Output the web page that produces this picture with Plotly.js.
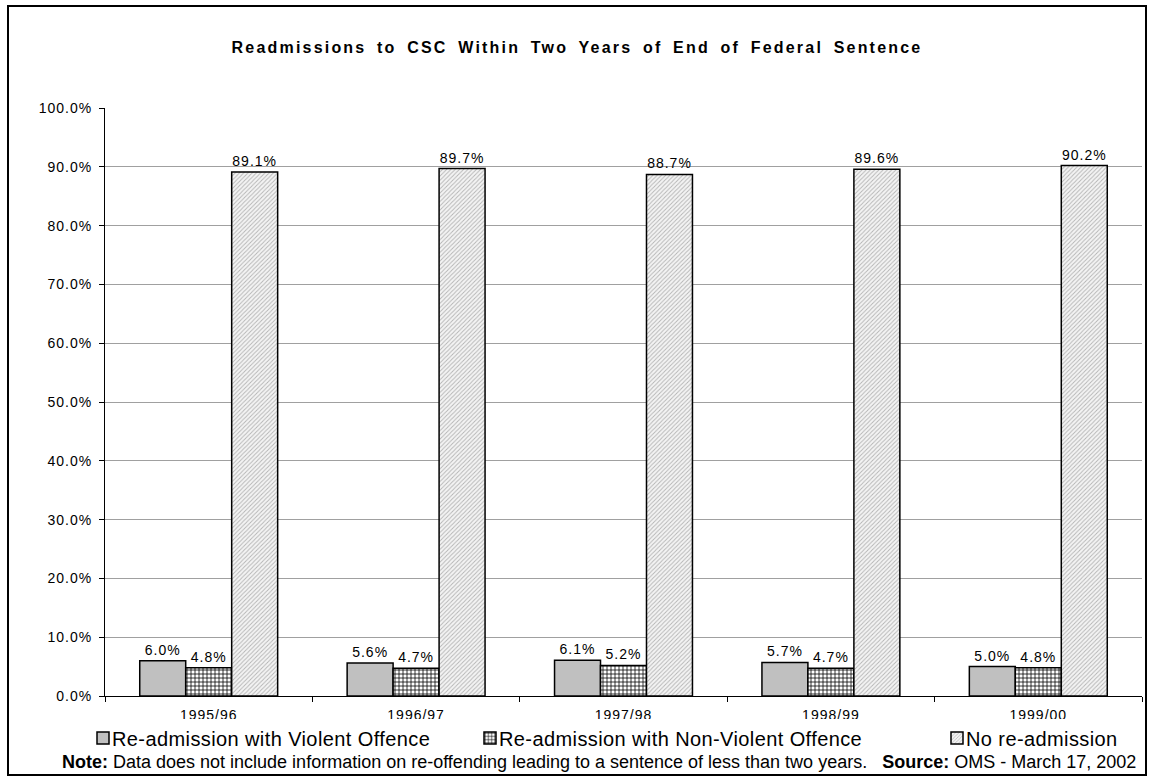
<!DOCTYPE html>
<html>
<head>
<meta charset="utf-8">
<script src="https://cdn.plot.ly/plotly-3.0.1.min.js"></script>
<style>
html,body{margin:0;padding:0;background:#fff;}
#chart{width:1154px;height:782px;}
.gtitle{letter-spacing:2.2px;word-spacing:4px;}
.ytick text,.xtick text,.bartext{letter-spacing:1px;}
.bartext{translate:0 -5px;}
.infolayer g.legend text,.infolayer g.legend2 text,.infolayer g.legend3 text{letter-spacing:0.4px;}
</style>
</head>
<body>
<div id="chart"></div>
<script>
const categories = ["1995/96","1996/97","1997/98","1998/99","1999/00"];
const violent = [6.0, 5.6, 6.1, 5.7, 5.0];
const nonViolent = [4.8, 4.7, 5.2, 4.7, 4.8];
const noReadmission = [89.1, 89.7, 88.7, 89.6, 90.2];
const seriesNames = ["Re-admission with Violent Offence","Re-admission with Non-Violent Offence","No re-admission"];
const titleText = "Readmissions to CSC Within Two Years of End of Federal Sentence";
const noteText = "<b>Note:</b> Data does not include information on re-offending leading to a sentence of less than two years.   <b>Source:</b> OMS - March 17, 2002";

const W = 1154, H = 782;
const L = 105, R = 12, T = 108, B = 86;
const pw = W - L - R, ph = H - T - B;
const px = x => (x - L) / pw;
const py = y => (H - B - y) / ph;

const font = "Liberation Sans, Arial, sans-serif";
const lineStyle = {color: "#000", width: 1.5};
const textFont = {family: font, size: 14, color: "#000"};

const traces = [
  {type: "bar", name: seriesNames[0], x: categories, y: violent,
   marker: {color: "#c0c0c0", line: lineStyle},
   texttemplate: "%{y:.1f}%", textposition: "outside", textfont: textFont,
   cliponaxis: false, hoverinfo: "none", legend: "legend"},
  {type: "bar", name: seriesNames[1], x: categories, y: nonViolent,
   marker: {color: "#fff", line: lineStyle,
     pattern: {shape: "+", fgcolor: "#000", bgcolor: "#fff", size: 4, solidity: 0.35}},
   texttemplate: "%{y:.1f}%", textposition: "outside", textfont: textFont,
   cliponaxis: false, hoverinfo: "none", legend: "legend2"},
  {type: "bar", name: seriesNames[2], x: categories, y: noReadmission,
   marker: {color: "#fff", line: lineStyle,
     pattern: {shape: "/", fgcolor: "#b4b4b4", bgcolor: "#f4f4f4", size: 3, solidity: 0.3}},
   texttemplate: "%{y:.1f}%", textposition: "outside", textfont: textFont,
   cliponaxis: false, hoverinfo: "none", legend: "legend3"}
];

const legendBase = {orientation: "h", yanchor: "middle", xanchor: "left",
  y: py(738), bgcolor: "rgba(0,0,0,0)", borderwidth: 0,
  font: {family: font, size: 20, color: "#000"}, itemwidth: 30};

const layout = {
  width: W, height: H,
  margin: {l: L, r: R, t: T, b: B},
  paper_bgcolor: "#fff", plot_bgcolor: "#fff",
  title: {text: "<b>" + titleText + "</b>", font: {family: font, size: 16, color: "#000"},
    x: 0.5, xref: "container", y: 1 - 47 / H, yref: "container", yanchor: "middle"},
  barmode: "group", bargap: 0.335, bargroupgap: 0,
  showlegend: true,
  legend: Object.assign({}, legendBase, {x: px(83)}),
  legend2: Object.assign({}, legendBase, {x: px(470)}),
  legend3: Object.assign({}, legendBase, {x: px(937)}),
  xaxis: {type: "category", showline: true, linecolor: "#000", linewidth: 1,
    ticks: "outside", tickson: "boundaries", ticklen: 5, tickcolor: "#000",
    ticklabelstandoff: 6,
    tickfont: {family: font, size: 14, color: "#000"}, showgrid: false, zeroline: false,
    fixedrange: true},
  yaxis: {range: [0, 100], dtick: 10, tickformat: ".1f", ticksuffix: "%",
    showline: true, linecolor: "#000", linewidth: 1, ticks: "outside", ticklen: 5,
    tickcolor: "#000", showgrid: true, gridcolor: "#a0a0a0", gridwidth: 1, zeroline: false,
    ticklabelstandoff: 4,
    tickfont: {family: font, size: 14, color: "#000"}, fixedrange: true},
  shapes: [
    {type: "line", xref: "paper", yref: "y", x0: 0.002, x1: 1, y0: 100, y1: 100,
     line: {color: "#fff", width: 2}, layer: "above"},
    {type: "rect", xref: "paper", yref: "paper", x0: px(40), x1: px(1140), y0: py(752), y1: py(719),
     line: {width: 0}, fillcolor: "#fff", layer: "above"},
    {type: "rect", xref: "paper", yref: "paper", x0: px(8), x1: px(1146), y0: py(775), y1: py(6),
     line: {color: "#000", width: 2}, fillcolor: "rgba(0,0,0,0)", layer: "above"}
  ],
  annotations: [
    {xref: "paper", yref: "paper", x: px(60), y: py(762), xanchor: "left", yanchor: "middle",
     text: noteText, showarrow: false,
     font: {family: "Liberation Sans Narrow, Arial Narrow, " + font, size: 18, color: "#000"}}
  ]
};

function fixLegends() {
  ["legend", "legend2", "legend3"].forEach(cls => {
    const g = document.querySelector("g.infolayer > g." + cls);
    if (!g) return;
    g.querySelectorAll("[clip-path]").forEach(el => el.removeAttribute("clip-path"));
    g.querySelectorAll("text").forEach(t => {
      if (t.dataset.shifted) return;
      const x = parseFloat(t.getAttribute("x") || "0");
      t.setAttribute("x", x - 11);
      t.querySelectorAll("tspan[x]").forEach(s => s.setAttribute("x", parseFloat(s.getAttribute("x")) - 11));
      t.dataset.shifted = "1";
    });
  });
}

Plotly.newPlot("chart", traces, layout, {displayModeBar: false, staticPlot: true}).then(fixLegends);
</script>
</body>
</html>
